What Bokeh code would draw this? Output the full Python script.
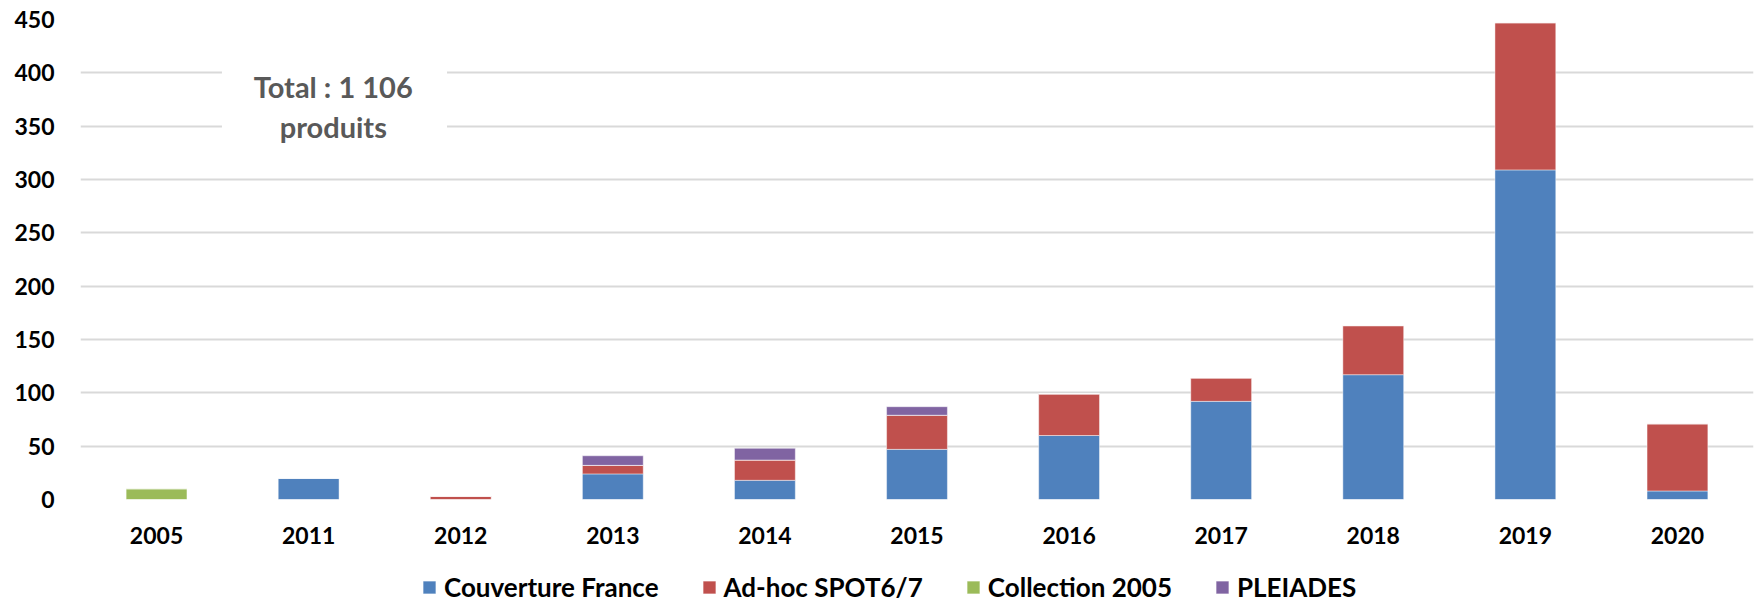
from bokeh.plotting import figure
from bokeh.models import Range1d, Legend, LegendItem, Label, BoxAnnotation
from bokeh.layouts import column
from bokeh.embed import file_html
from bokeh.resources import INLINE

years = ["2005", "2011", "2012", "2013", "2014", "2015", "2016", "2017", "2018", "2019", "2020"]
couverture_france = [0, 20, 0, 24, 18, 47, 60, 92, 117, 309, 8]
adhoc_spot67 = [0, 0, 3, 8, 19, 32, 39, 22, 46, 138, 63]
collection_2005 = [10, 0, 0, 0, 0, 0, 0, 0, 0, 0, 0]
pleiades = [0, 0, 0, 9, 11, 8, 0, 0, 0, 0, 0]

series = ["Couverture France", "Ad-hoc SPOT6/7", "Collection 2005", "PLEIADES"]
keys = ["couv", "adhoc", "coll", "plei"]
colors = ["#4F81BD", "#C0504D", "#9BBB59", "#8064A2"]
y_ticks = [0, 50, 100, 150, 200, 250, 300, 350, 400, 450]
total_text = ["Total : 1 106", "produits"]

source = dict(years=years, couv=couverture_france, adhoc=adhoc_spot67,
              coll=collection_2005, plei=pleiades)

p = figure(x_range=years, y_range=Range1d(0, 450), width=1760, height=557,
           output_backend="svg", toolbar_location=None,
           min_border_left=80, min_border_right=7, min_border_top=19, min_border_bottom=58)

renderers = p.vbar_stack(keys, x="years", width=0.4, color=colors, source=source,
                         line_color="white", line_alpha=0.45, line_width=1)

p.outline_line_color = None
p.xgrid.grid_line_color = None
p.ygrid.grid_line_color = "#D9D9D9"
p.ygrid.grid_line_width = 2
p.yaxis.ticker = y_ticks

for ax in (p.xaxis[0], p.yaxis[0]):
    ax.axis_line_color = None
    ax.major_tick_line_color = None
    ax.minor_tick_line_color = None
    ax.major_tick_out = 0
    ax.major_tick_in = 0
    ax.major_label_text_font = "Lato"
    ax.major_label_text_font_style = "bold"
    ax.major_label_text_font_size = "23px"
    ax.major_label_text_color = "#000000"
p.yaxis.major_label_standoff = 26
p.xaxis.major_label_standoff = 27

box = BoxAnnotation(left=0.93, right=2.41, top=426, bottom=313,
                    fill_color="white", fill_alpha=1.0, line_color=None)
p.add_layout(box)

for txt, yv in zip(total_text, [387, 350]):
    p.add_layout(Label(x=1.662, y=yv, text=txt, text_align="center",
                       text_baseline="alphabetic", text_font="Lato",
                       text_font_style="bold", text_font_size="29px",
                       text_color="#595959"))

# legend strip below the chart (same data, drawn outside its visible range)
pl = figure(width=1760, height=46, output_backend="svg", toolbar_location=None,
            min_border_left=80, min_border_right=7, min_border_top=0, min_border_bottom=0,
            x_range=p.x_range, y_range=Range1d(1000, 1001))
pl.axis.visible = False
pl.grid.visible = False
pl.outline_line_color = None
legend_renderers = pl.vbar_stack(keys, x="years", width=0.4, color=colors, source=source,
                                 line_color="white", line_alpha=0.45, line_width=1)
legend = Legend(items=[LegendItem(label=s, renderers=[r]) for s, r in zip(series, legend_renderers)],
                orientation="horizontal", location=(341, 0), spacing=42,
                padding=0, margin=0, border_line_color=None, background_fill_alpha=0,
                glyph_width=16, glyph_height=16, label_standoff=7,
                label_text_font="Lato", label_text_font_style="bold",
                label_text_font_size="26px", label_text_color="#000000")
pl.add_layout(legend)

layout = column(p, pl, spacing=0)
open("out.html", "w").write(file_html(layout, INLINE))
